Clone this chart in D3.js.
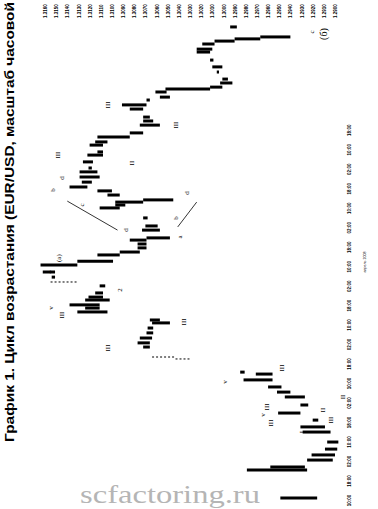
<!DOCTYPE html>
<html>
  <head>
    <meta charset="utf-8">
    <title>EUR/USD</title>
    <script src="https://cdn.jsdelivr.net/npm/d3@7"></script>
    <style>
      body { margin: 0; background: #fff; }
    </style>
  </head>
  <body>
    <svg width="378" height="509" id="mainsvg"></svg>
    <script>
      // hours from the start of the cycle, bar high, bar low
      const barTime = [0.8, 12.3, 13.5, 16.4, 18.5, 20.9, 23.8, 27.9, 30.0, 32.8, 35.7, 39.0, 42.3, 44.3, 46.4, 49.3, 51.7, 52.5,
        62.8, 64.5, 66.5, 68.6, 70.6, 72.7, 73.9, 77.2, 78.8, 80.1, 82.1, 83.3, 85.0, 87.9, 91.5, 93.6, 96.5, 98.0,
        100.6, 101.8, 103.5, 105.1, 106.7, 107.6, 110.8, 112.5, 115.8, 119.9, 121.1, 122.3, 123.2, 125.2, 126.9, 128.5,
        130.5, 132.6, 134.7, 136.3, 138.8, 141.6, 142.9, 145.7, 147.0, 149.0, 150.7, 153.9, 155.6, 157.2, 160.5, 162.2,
        164.2, 165.4, 167.5, 168.7, 169.5, 171.2, 172.8, 175.7, 177.8, 180.6, 183.9, 185.1, 187.2, 188.4, 189.3, 190.1, 194.2];
      const barHigh = [1.2949, 1.2979, 1.2958, 1.2925, 1.2921, 1.2909, 1.2907, 1.2929, 1.2931, 1.2920, 1.2951, 1.2931, 1.2945, 1.2952, 1.2960, 1.2982, 1.2971, 1.2985,
        1.3072, 1.3077, 1.3075, 1.3069, 1.3068, 1.3064, 1.3066, 1.3131, 1.3124, 1.3138, 1.3124, 1.3121, 1.3115, 1.3111, 1.3154, 1.3162, 1.3164, 1.3131,
        1.3113, 1.3093, 1.3077, 1.3077, 1.3084, 1.3069, 1.3073, 1.3070, 1.3072, 1.3111, 1.3097, 1.3097, 1.3072, 1.3104, 1.3113, 1.3138,
        1.3127, 1.3129, 1.3129, 1.3121, 1.3126, 1.3122, 1.3113, 1.3120, 1.3115, 1.3113, 1.3084, 1.3075, 1.3072, 1.3072, 1.3084, 1.3091,
        1.3069, 1.3057, 1.3061, 1.3052, 1.3012, 1.3003, 1.3001, 1.3006, 1.3010, 1.3012, 1.3024, 1.3024, 1.3019, 1.3008, 1.2990, 1.2967, 1.2994];
      const barLow = [1.2916, 1.2925, 1.2927, 1.2902, 1.2900, 1.2898, 1.2897, 1.2904, 1.2909, 1.2915, 1.2931, 1.2924, 1.2927, 1.2940, 1.2948, 1.2956, 1.2956, 1.2981,
        1.3066, 1.3066, 1.3064, 1.3063, 1.3063, 1.3048, 1.3057, 1.3104, 1.3111, 1.3111, 1.3102, 1.3108, 1.3108, 1.3106, 1.3151, 1.3151, 1.3131, 1.3099,
        1.3093, 1.3075, 1.3069, 1.3069, 1.3069, 1.3048, 1.3057, 1.3059, 1.3068, 1.3093, 1.3088, 1.3072, 1.3045, 1.3093, 1.3100, 1.3122,
        1.3118, 1.3111, 1.3113, 1.3118, 1.3117, 1.3108, 1.3108, 1.3108, 1.3104, 1.3084, 1.3072, 1.3057, 1.3063, 1.3066, 1.3072, 1.3069,
        1.3066, 1.3048, 1.3051, 1.3012, 1.3001, 1.2992, 1.2996, 1.3004, 1.3001, 1.3009, 1.3012, 1.3010, 1.3008, 1.2990, 1.2967, 1.2940, 1.2988];

      // faint dotted bars
      const thinTime = [57.9, 58.7, 89.5];
      const thinHigh = [1.3043, 1.3064, 1.3155];
      const thinLow = [1.3030, 1.3043, 1.3131];

      const priceTicks = [1.3160, 1.3150, 1.3140, 1.3130, 1.3120, 1.3110, 1.3100, 1.3090, 1.3080, 1.3070, 1.3060, 1.3050, 1.3040,
        1.3030, 1.3020, 1.3010, 1.3000, 1.2990, 1.2980, 1.2970, 1.2960, 1.2950, 1.2940, 1.2930, 1.2920, 1.2910, 1.2900];
      const timeTicks = [0, 8, 16, 24, 32, 40, 48, 56, 64, 72, 80, 88, 96, 104, 112, 120, 128, 136, 144, 152];
      const timeLabels = ['10:00', '18:00', '02:00', '10:00', '18:00', '02:00', '10:00', '18:00', '02:00', '10:00',
        '18:00', '02:00', '10:00', '18:00', '02:00', '10:00', '18:00', '02:00', '10:00', '18:00'];

      // wave marks written on the chart
      const markText = ['v', '(а)', 'c', 'III', 'b', 'd', 'c', 'II', 'd', 'b', 'a', 'd', 'III', 'III', '2', 'v', 'III', 'III', 'III',
        'III', 'v', 'III', 'v', 'III', 'II', 'III', 'I', 'II'];
      const markTime = [93.6, 99.3, 192.1, 141.6, 127.3, 132.2, 121.1, 138.3, 126.0, 115.8, 108.0, 110.8, 162.2, 153.9, 86.2, 78.8,
        75.9, 73.1, 62.4, 54.2, 48.4, 38.2, 34.9, 31.6, 36.9, 32.8, 27.9, 42.3];
      const markPrice = [1.3155, 1.3148, 1.2921, 1.3149, 1.3153, 1.3145, 1.3127, 1.3082, 1.3033, 1.3043, 1.3039, 1.3088, 1.3104, 1.3043,
        1.3093, 1.3155, 1.3145, 1.3036, 1.3104, 1.2948, 1.2999, 1.2961, 1.2965, 1.2958, 1.2911, 1.2904, 1.2930, 1.2893];

      // the two guide lines of the wave (b)
      const guideTime = [[122.7, 110.8], [122.3, 112.1]];
      const guidePrice = [[1.3140, 1.3095], [1.3024, 1.3041]];

      const svg = d3.select('#mainsvg');
      svg.append('rect').attr('width', 378).attr('height', 509).attr('fill', '#fff');

      const xScale = d3.scaleLinear().domain([1.3160, 1.2900]).range([45, 335]);
      const yScale = d3.scaleLinear().domain([0, 195]).range([500, 25]);

      // price axis along the top, labels turned on their side
      const xAxis = d3.axisTop(xScale).tickValues(priceTicks).tickFormat(d3.format('.4f')).tickSize(0);
      const xAxisGroup = svg.append('g').attr('transform', 'translate(0, 18)').call(xAxis);
      xAxisGroup.select('.domain').remove();
      xAxisGroup.selectAll('text')
        .attr('transform', 'rotate(-90)')
        .attr('x', 0).attr('y', 0).attr('dy', '0.35em')
        .attr('text-anchor', 'start')
        .attr('font-family', 'Liberation Sans, Arial, sans-serif')
        .attr('font-size', 4.5).attr('font-weight', 'bold').attr('fill', '#000');

      // time axis on the right
      const yAxis = d3.axisRight(yScale).tickValues(timeTicks).tickFormat((d, i) => timeLabels[i]).tickSize(0);
      const yAxisGroup = svg.append('g').attr('transform', 'translate(349, 0)').call(yAxis);
      yAxisGroup.select('.domain').remove();
      yAxisGroup.selectAll('text')
        .attr('transform', 'rotate(-90)')
        .attr('x', 0).attr('y', 0).attr('dy', '0.35em')
        .attr('text-anchor', 'middle')
        .attr('font-family', 'Liberation Sans, Arial, sans-serif')
        .attr('font-size', 4.5).attr('font-weight', 'bold').attr('fill', '#000');

      svg.append('text')
        .attr('transform', 'translate(365, 262) rotate(-90)')
        .attr('text-anchor', 'middle').attr('dy', '0.35em')
        .attr('font-family', 'Liberation Sans, Arial, sans-serif').attr('font-size', 3.6)
        .text('апрель 2008');

      // bars
      const bars = svg.append('g');
      bars.selectAll('line.bar').data(barTime).join('line')
        .attr('class', 'bar')
        .attr('x1', (d, i) => xScale(barHigh[i]))
        .attr('x2', (d, i) => xScale(barLow[i]))
        .attr('y1', d => yScale(d))
        .attr('y2', d => yScale(d))
        .attr('stroke', '#000').attr('stroke-width', 3);

      bars.selectAll('line.thin').data(thinTime).join('line')
        .attr('class', 'thin')
        .attr('x1', (d, i) => xScale(thinHigh[i]))
        .attr('x2', (d, i) => xScale(thinLow[i]))
        .attr('y1', d => yScale(d))
        .attr('y2', d => yScale(d))
        .attr('stroke', '#000').attr('stroke-width', 1).attr('stroke-dasharray', '2,2');

      svg.selectAll('line.guide').data(guideTime).join('line')
        .attr('class', 'guide')
        .attr('x1', (d, i) => xScale(guidePrice[i][0]))
        .attr('x2', (d, i) => xScale(guidePrice[i][1]))
        .attr('y1', d => yScale(d[0]))
        .attr('y2', d => yScale(d[1]))
        .attr('stroke', '#000').attr('stroke-width', 0.8);

      svg.selectAll('text.mark').data(markText).join('text')
        .attr('class', 'mark')
        .attr('transform', (d, i) => `translate(${xScale(markPrice[i])}, ${yScale(markTime[i])}) rotate(-90)`)
        .attr('text-anchor', 'middle').attr('dy', '0.35em')
        .attr('font-family', 'Liberation Serif, Times New Roman, serif')
        .attr('font-size', 7)
        .text(d => d);

      svg.append('text')
        .attr('transform', `translate(${xScale(1.2910)}, ${yScale(191.3)}) rotate(-90)`)
        .attr('text-anchor', 'middle').attr('dy', '0.35em')
        .attr('font-family', 'Liberation Serif, Times New Roman, serif')
        .attr('font-size', 10)
        .text('(б)');

      // title
      svg.append('text')
        .attr('transform', 'translate(10, 442) rotate(-90)')
        .attr('dy', '0.35em')
        .attr('font-family', 'Liberation Sans, Arial, sans-serif')
        .attr('font-size', 12).attr('font-weight', 'bold')
        .attr('textLength', 440).attr('lengthAdjust', 'spacingAndGlyphs')
        .text('График 1. Цикл возрастания (EUR/USD, масштаб часовой');

      // watermark
      svg.append('text')
        .attr('x', 80).attr('y', 503)
        .attr('font-family', 'Liberation Serif, Times New Roman, serif')
        .attr('font-size', 26)
        .attr('textLength', 180).attr('lengthAdjust', 'spacingAndGlyphs')
        .attr('fill', '#b5b5b5')
        .text('scfactoring.ru');
    </script>
  </body>
</html>
